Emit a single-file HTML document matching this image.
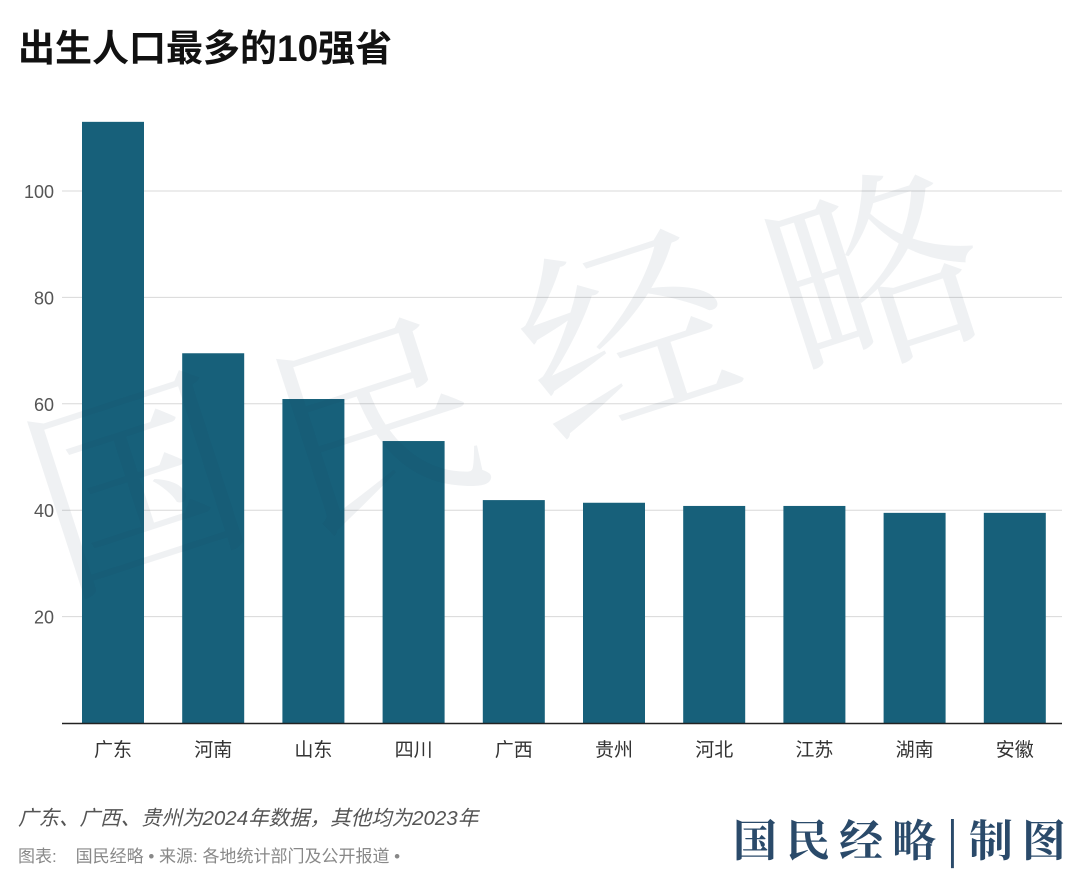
<!DOCTYPE html>
<html><head><meta charset="utf-8"><style>
body{margin:0;width:1080px;height:884px;background:#fff;overflow:hidden;font-family:"Liberation Sans","Noto Sans CJK SC",sans-serif;}
svg{position:absolute;left:0;top:0}
</style></head><body>
<svg id="c" width="1080" height="884">
<text x="18" y="61" font-size="37" font-weight="bold" fill="#111" font-family="Liberation Sans,Noto Sans CJK SC,sans-serif">出生人口最多的10强省</text>
<g id="grid"></g>
<g id="bars"></g>
<g id="xl"></g>
<g fill="#1a3a5a" fill-opacity="0.07" font-family="Noto Serif CJK SC,serif" font-size="210">
<text x="60" y="590" transform="rotate(-18 60 590)">国</text>
<text x="300" y="530" transform="rotate(-18 300 530)">民</text>
<text x="550" y="440" transform="rotate(-18 550 440)">经</text>
<text x="800" y="380" transform="rotate(-18 800 380)">略</text>
</g>
<text x="18" y="825" font-size="20.5" font-style="italic" fill="#555">广东、广西、贵州为2024年数据，其他均为2023年</text>
<text x="18" y="862" font-size="17" fill="#888" xml:space="preserve">图表:    国民经略 • 来源: 各地统计部门及公开报道 •</text>
<text x="733" y="856" font-size="44" font-weight="bold" fill="#2a4a6a" letter-spacing="9" font-family="Noto Serif CJK SC,serif">国民经略|制图</text>
</svg>
<script>
const categories=["广东","河南","山东","四川","广西","贵州","河北","江苏","湖南","安徽"];
const values=[113.0,69.5,60.9,53.0,41.9,41.4,40.8,40.8,39.5,39.5];
const ticks=[20,40,60,80,100];
const NS="http://www.w3.org/2000/svg";
const y=v=>723-v*5.32;
const x=i=>62+i*100.2;
function mk(t,a,p){const e=document.createElementNS(NS,t);for(const k in a)e.setAttribute(k,a[k]);p.appendChild(e);return e;}
const g=document.getElementById('grid'),b=document.getElementById('bars'),xl=document.getElementById('xl');
ticks.forEach(t=>{
 const l=mk('line',{x1:62,x2:1062,y1:y(t),y2:y(t),stroke:'#d8d8d8','stroke-width':1},g);
 
 
 const tx=mk('text',{x:54,y:y(t)+7,'text-anchor':'end','font-size':18,fill:'#555'},g);
 tx.textContent=t;
 
 
});
values.forEach((v,i)=>{
 const r=mk('rect',{x:x(i)+20,y:y(v),width:62,height:723-y(v),fill:'#17607a'},b);
 
 
 const t=mk('text',{x:x(i)+51,y:756,'text-anchor':'middle','font-size':19,fill:'#333'},xl);
 t.textContent=categories[i];
 
 
});
const ax=mk('line',{x1:62,x2:1062,y1:723.5,y2:723.5,stroke:'#222','stroke-width':1.5},xl);


</script>
</body></html>
